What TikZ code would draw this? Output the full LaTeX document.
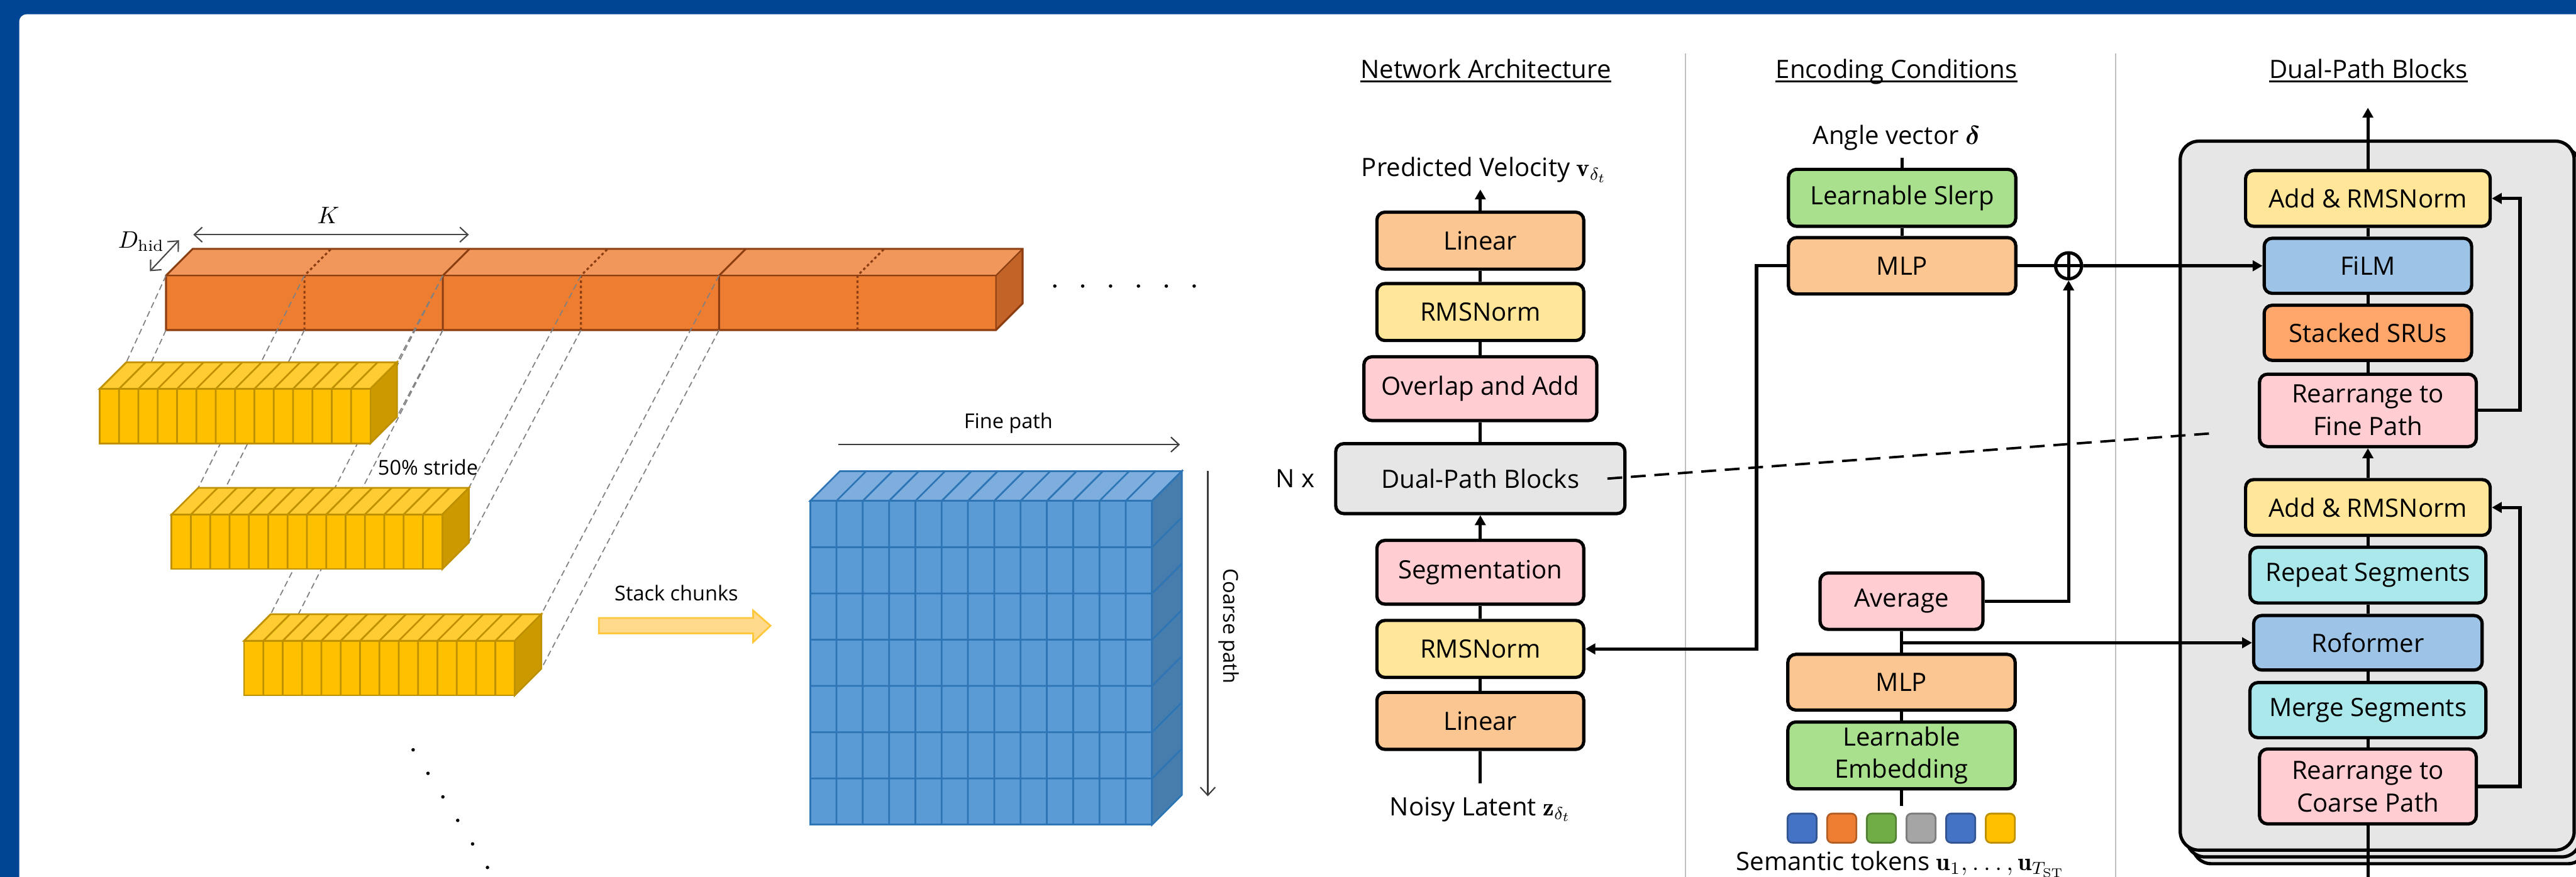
\documentclass[tikz,border=0pt]{standalone}
\usepackage{amsmath,amssymb}
\usepackage{fontspec}
\setsansfont{Open Sans}
\renewcommand{\familydefault}{\sfdefault}
\usepackage{tikz}
\usetikzlibrary{positioning,arrows.meta}

\definecolor{frameblue}{RGB}{0,68,148}
\definecolor{sepgray}{RGB}{191,191,191}
\definecolor{boxorange}{RGB}{251,198,145}
\definecolor{boxyellow}{RGB}{255,230,153}
\definecolor{boxpink}{RGB}{255,205,210}
\definecolor{boxgray}{RGB}{230,230,230}
\definecolor{boxgreen}{RGB}{168,224,142}
\definecolor{boxblue}{RGB}{157,195,230}
\definecolor{boxsru}{RGB}{255,166,107}
\definecolor{boxcyan}{RGB}{170,232,236}
\definecolor{seqfront}{RGB}{237,125,49}
\definecolor{seqtop}{RGB}{241,151,92}
\definecolor{seqside}{RGB}{194,99,40}
\definecolor{seqedge}{RGB}{140,62,18}
\definecolor{chunkfront}{RGB}{255,192,0}
\definecolor{chunktop}{RGB}{255,205,51}
\definecolor{chunkside}{RGB}{204,154,0}
\definecolor{chunkedge}{RGB}{191,144,0}
\definecolor{cubefront}{RGB}{91,155,213}
\definecolor{cubetop}{RGB}{125,174,222}
\definecolor{cubeside}{RGB}{71,125,172}
\definecolor{cubeedge}{RGB}{46,117,182}
\definecolor{stackfill}{RGB}{255,217,140}
\definecolor{stackedge}{RGB}{255,200,60}
\definecolor{tokblue}{RGB}{68,114,196}
\definecolor{tokorange}{RGB}{237,125,49}
\definecolor{tokgreen}{RGB}{112,173,71}
\definecolor{tokgray}{RGB}{165,165,165}
\definecolor{tokgold}{RGB}{255,192,0}

\tikzset{
  labelfont/.style={font=\fontsize{11.6}{15}\selectfont},
  smallfont/.style={font=\fontsize{9.4}{11}\selectfont},
  titlefont/.style={labelfont, inner sep=0pt},
  blk/.style={draw, line width=1.5pt, rounded corners=1.3mm, align=center, inner sep=0pt, labelfont},
  linbox/.style={blk, fill=boxorange},
  normbox/.style={blk, fill=boxyellow},
  pinkbox/.style={blk, fill=boxpink},
  graybox/.style={blk, fill=boxgray},
  greenbox/.style={blk, fill=boxgreen},
  bluebox/.style={blk, fill=boxblue},
  srubox/.style={blk, fill=boxsru},
  cyanbox/.style={blk, fill=boxcyan},
  token/.style={draw, line width=0.8pt, rounded corners=0.8mm, minimum size=0.47cm, inner sep=0pt},
  sumnode/.style={draw, circle, line width=1.5pt, fill=white, minimum size=0.42cm, inner sep=0pt,
    path picture={\draw[line width=1.5pt] (path picture bounding box.north) -- (path picture bounding box.south)
      (path picture bounding box.west) -- (path picture bounding box.east);}},
  conn/.style={line width=1.5pt},
  connarrow/.style={conn, -{Triangle[length=1.6mm,width=1.7mm]}},
  dashlink/.style={line width=1.1pt, dash pattern=on 2.4mm off 1.4mm},
  projline/.style={draw={rgb,255:red,128;green,128;blue,128}, line width=0.5pt, dash pattern=on 2.8pt off 1.7pt},
  dimarrow/.style={draw={rgb,255:red,70;green,70;blue,70}, line width=0.6pt,
    {Straight Barb[length=1.3mm,width=2.4mm]}-{Straight Barb[length=1.3mm,width=2.4mm]}},
  patharrow/.style={draw={rgb,255:red,60;green,60;blue,60}, line width=0.6pt, -{Straight Barb[length=1.3mm,width=2.4mm]}},
  sepline/.style={draw=sepgray, line width=0.6pt},
}

\begin{document}
\begin{tikzpicture}
  \useasboundingbox (0,0) rectangle (41.59,-14.16);
  % frame
  \fill[frameblue] (0,0) rectangle (41.59,-14.16);
  \fill[white, rounded corners=1.2mm] (0.31,-0.23) rectangle (42.6,-15.2);

  % ---------------- segmentation sketch ----------------
  % long sequence
  \fill[seqtop] (2.68,-4.45) -- (3.11,-4.02) -- (16.51,-4.02) -- (16.08,-4.45) -- cycle;
  \fill[seqside] (16.08,-4.45) -- (16.51,-4.02) -- (16.51,-4.90) -- (16.08,-5.33) -- cycle;
  \fill[seqfront] (2.68,-5.33) rectangle (16.08,-4.45);
  \draw[seqedge, line width=0.9pt] (2.68,-5.33) -- (2.68,-4.45) -- (3.11,-4.02) -- (16.51,-4.02) -- (16.51,-4.90) -- (16.08,-5.33) -- cycle;
  \draw[seqedge, line width=0.6pt] (2.68,-4.45) -- (16.08,-4.45) -- (16.51,-4.02) (16.08,-4.45) -- (16.08,-5.33);
  \foreach \x in {7.15,11.61}
    \draw[seqedge, line width=0.9pt] (\x,-5.33) -- (\x,-4.45) -- ++(0.43,0.43);
  \foreach \x in {4.915,9.38,13.845}
    \draw[seqedge, line width=0.9pt, dash pattern=on 1.2pt off 1.2pt] (\x,-5.33) -- (\x,-4.45) -- ++(0.43,0.43);

  % sizes
  \draw[dimarrow] (3.12,-3.79) -- (7.57,-3.79);
  \node[font=\fontsize{10.5}{11}\selectfont] (klab) at (5.30,-3.48) {$K$};
  \draw[dimarrow] (2.42,-4.38) -- (2.89,-3.88);
  \node[font=\fontsize{10.5}{11}\selectfont] (dlab) at (2.28,-3.90) {$D_{\mathrm{hid}}$};

  % projection lines
  \foreach \xl/\xr/\bx/\by in {2.68/7.15/1.61/-7.16, 4.915/9.38/2.77/-9.19, 7.15/11.61/3.94/-11.23}{
    \draw[projline] (\xl,-4.45) -- (\bx+0.43,\by+1.31);
    \draw[projline] (\xl,-5.33) -- (\bx+0.43,\by+0.43);
    \draw[projline] (\xr,-4.45) -- (\bx+4.80,\by+1.31);
    \draw[projline] (\xr,-5.33) -- (\bx+4.80,\by+0.43);
  }

  % chunks
  \foreach \bx/\by in {1.61/-7.16, 2.77/-9.19, 3.94/-11.23}{
    \begin{scope}[shift={(\bx,\by)}]
      \filldraw[draw=chunkedge, fill=chunktop, line width=0.8pt] (0,0.88) -- (0.43,1.31) -- (4.80,1.31) -- (4.37,0.88) -- cycle;
      \filldraw[draw=chunkedge, fill=chunkside, line width=0.8pt] (4.37,0) -- (4.80,0.43) -- (4.80,1.31) -- (4.37,0.88) -- cycle;
      \filldraw[draw=chunkedge, fill=chunkfront, line width=0.8pt] (0,0) rectangle (4.37,0.88);
      \foreach \i in {1,...,13}
        \draw[chunkedge, line width=0.8pt] (\i*0.3121,0) -- (\i*0.3121,0.88) -- ++(0.43,0.43);
    \end{scope}
  }
  \node[smallfont] (stride) at (6.91,-7.55) {50\% stride};

  % dots
  \foreach \i in {0,...,5}
    \fill (17.03+0.45*\i,-4.62) circle (0.028);
  \foreach \i in {0,...,5}
    \fill (6.67+0.24*\i,-12.11-0.38*\i) circle (0.028);

  % stack arrow
  \filldraw[draw=stackedge, fill=stackfill, line width=0.8pt] (9.67,-9.98) -- (12.16,-9.98) -- (12.16,-9.86)
    -- (12.44,-10.105) -- (12.16,-10.37) -- (12.16,-10.23) -- (9.67,-10.23) -- cycle;
  \node[smallfont] (stack) at (10.92,-9.58) {Stack chunks};

  % stacked chunks
  \begin{scope}[shift={(13.08,-13.32)}]
    \filldraw[draw=cubeedge, fill=cubetop, line width=0.8pt] (0,5.23) -- (0.48,5.71) -- (6.00,5.71) -- (5.52,5.23) -- cycle;
    \filldraw[draw=cubeedge, fill=cubeside, line width=0.8pt] (5.52,0) -- (6.00,0.48) -- (6.00,5.71) -- (5.52,5.23) -- cycle;
    \filldraw[draw=cubeedge, fill=cubefront, line width=0.8pt] (0,0) rectangle (5.52,5.23);
    \foreach \i in {1,...,12}
      \draw[cubeedge, line width=0.8pt] (\i*0.4246,0) -- (\i*0.4246,5.23) -- ++(0.48,0.48);
    \foreach \j in {1,...,6}
      \draw[cubeedge, line width=0.8pt] (0,\j*0.7471) -- (5.52,\j*0.7471) -- ++(0.48,0.48);
  \end{scope}
  \draw[patharrow] (13.53,-7.18) -- (19.05,-7.18);
  \node[smallfont] (fine) at (16.28,-6.83) {Fine path};
  \draw[patharrow] (19.50,-7.61) -- (19.50,-12.86);
  \node[smallfont, rotate=-90] (coarse) at (19.84,-10.11) {Coarse path};

  % ---------------- separators and titles ----------------
  \draw[sepline] (27.21,-0.86) -- (27.21,-14.16);
  \draw[sepline] (34.16,-0.86) -- (34.16,-14.16);
  \node[titlefont, anchor=base] (t1) at (23.99,-1.26) {Network Architecture};
  \node[titlefont, anchor=base] (t2) at (30.62,-1.26) {Encoding Conditions};
  \node[titlefont, anchor=base] (t3) at (38.24,-1.26) {Dual-Path Blocks};
  \foreach \t in {t1,t2,t3}
    \draw[line width=0.6pt] ([yshift=-0.55mm]\t.base west) -- ([yshift=-0.55mm]\t.base east);

  % ---------------- network architecture ----------------
  \node[graybox, minimum width=4.67cm, minimum height=1.13cm] (dpb) at (23.90,-7.73) {Dual-Path Blocks};
  \node[pinkbox, minimum width=3.76cm, minimum height=1.03cm, above=0.32 of dpb] (ola) {Overlap and Add};
  \node[normbox, minimum width=3.34cm, minimum height=0.92cm, above=0.21 of ola] (norm2) {RMSNorm};
  \node[linbox, minimum width=3.34cm, minimum height=0.92cm, above=0.18 of norm2] (lin2) {Linear};
  \node[pinkbox, minimum width=3.34cm, minimum height=1.03cm, below=0.38 of dpb] (seg) {Segmentation};
  \node[normbox, minimum width=3.34cm, minimum height=0.92cm, below=0.21 of seg] (norm1) {RMSNorm};
  \node[linbox, minimum width=3.34cm, minimum height=0.92cm, below=0.19 of norm1] (lin1) {Linear};
  \node[labelfont, left=0.19 of dpb] (nx) {N x};

  \coordinate[above=0.34 of lin2] (out1);
  \coordinate[below=0.52 of lin1] (in1);
  \node[labelfont, anchor=base] (pv) at (23.96,-2.85) {Predicted Velocity $\mathbf{v}_{\delta_t}$};
  \node[labelfont, anchor=base] (nl) at (23.90,-13.17) {Noisy Latent $\mathbf{z}_{\delta_t}$};

  \draw[connarrow] (lin2) -- (out1);
  \draw[conn] (norm2) -- (lin2);
  \draw[conn] (ola) -- (norm2);
  \draw[conn] (dpb) -- (ola);
  \draw[connarrow] (seg) -- (dpb);
  \draw[conn] (norm1) -- (seg);
  \draw[conn] (lin1) -- (norm1);
  \draw[conn] (in1) -- (lin1);

  % ---------------- encoding conditions ----------------
  \node[labelfont, anchor=base] (angle) at (30.62,-2.33) {Angle vector $\boldsymbol{\delta}$};
  \node[greenbox, minimum width=3.67cm, minimum height=0.92cm] (slerp) at (30.71,-3.195) {Learnable Slerp};
  \node[linbox, minimum width=3.67cm, minimum height=0.91cm, below=0.13 of slerp] (mlp1) {MLP};
  \node[sumnode, right=0.59 of mlp1] (sum) {};
  \node[pinkbox, minimum width=2.63cm, minimum height=0.91cm] (avg) at (30.70,-9.71) {Average};
  \node[linbox, minimum width=3.67cm, minimum height=0.90cm, below=0.35 of avg] (mlp2) {MLP};
  \node[greenbox, minimum width=3.67cm, minimum height=1.08cm, below=0.14 of mlp2] (emb) {Learnable\\Embedding};
  \coordinate[below=0.25 of emb] (tokin);
  \foreach \c [count=\i] in {tokblue,tokorange,tokgreen,tokgray,tokblue,tokgold}
    \node[token, fill=\c, draw=\c!75!black] (tok\i) at (28.455+0.64*\i,-13.375) {};
  \node[labelfont, anchor=base] (sem) at (30.68,-14.06) {Semantic tokens $\mathbf{u}_1,\dots,\mathbf{u}_{T_{\mathrm{ST}}}$};

  \draw[conn] (slerp.north) -- (slerp.north |- angle.south);
  \draw[conn] (slerp) -- (mlp1);
  \draw[conn] (mlp1) -- (sum);
  \draw[connarrow] (avg.east) -| (sum.south);
  \draw[conn] (avg) -- (mlp2);
  \draw[conn] (mlp2) -- (emb);
  \draw[conn] (tokin) -- (emb);
  \draw[connarrow] (mlp1.west) -- ++(-0.49,0) |- (norm1.east);

  % ---------------- dual-path blocks ----------------
  \foreach \s in {0.20,0.10}
    \draw[line width=1.5pt, fill=boxgray, rounded corners=3mm] (35.20+\s,-2.28-\s*1.1) rectangle (41.56+\s,-13.73-\s*1.1);
  \draw[line width=1.5pt, fill=boxgray, rounded corners=3mm] (35.20,-2.28) rectangle (41.56,-13.73);

  \node[normbox, minimum width=3.95cm, minimum height=0.90cm] (addn2) at (38.23,-3.205) {Add \& RMSNorm};
  \node[bluebox, minimum width=3.35cm, minimum height=0.89cm, below=0.14 of addn2] (film) {FiLM};
  \node[srubox, minimum width=3.35cm, minimum height=0.89cm, below=0.14 of film] (sru) {Stacked SRUs};
  \node[pinkbox, minimum width=3.50cm, minimum height=1.17cm, below=0.17 of sru] (rfine) {Rearrange to\\Fine Path};
  \node[normbox, minimum width=3.95cm, minimum height=0.90cm, below=0.48 of rfine] (addn1) {Add \& RMSNorm};
  \node[cyanbox, minimum width=3.81cm, minimum height=0.90cm, below=0.14 of addn1] (rep) {Repeat Segments};
  \node[bluebox, minimum width=3.69cm, minimum height=0.88cm, below=0.15 of rep] (rof) {Roformer};
  \node[cyanbox, minimum width=3.81cm, minimum height=0.89cm, below=0.15 of rof] (merge) {Merge Segments};
  \node[pinkbox, minimum width=3.50cm, minimum height=1.21cm, below=0.13 of merge] (rcoarse) {Rearrange to\\Coarse Path};
  \coordinate (dpout) at (38.23,-1.74);
  \coordinate (dpin) at (38.23,-14.6);
  \coordinate (dpend) at (35.69,-7.00);

  \draw[connarrow] (addn2) -- (dpout);
  \draw[conn] (film) -- (addn2);
  \draw[conn] (sru) -- (film);
  \draw[conn] (rfine) -- (sru);
  \draw[connarrow] (addn1) -- (rfine);
  \draw[conn] (rep) -- (addn1);
  \draw[conn] (rof) -- (rep);
  \draw[conn] (merge) -- (rof);
  \draw[conn] (rcoarse) -- (merge);
  \draw[conn] (dpin) -- (rcoarse);
  \draw[connarrow] (rfine.east) -- ++(0.68,0) |- (addn2.east);
  \draw[connarrow] (rcoarse.east) -- ++(0.68,0) |- (addn1.east);

  % conditions into the blocks
  \draw[connarrow] (sum) -- (film);
  \draw[connarrow] (avg.south |- rof) -- (rof);
  \draw[dashlink] ([xshift=-3.1mm]dpb.east) -- (dpend);
\end{tikzpicture}
\end{document}
